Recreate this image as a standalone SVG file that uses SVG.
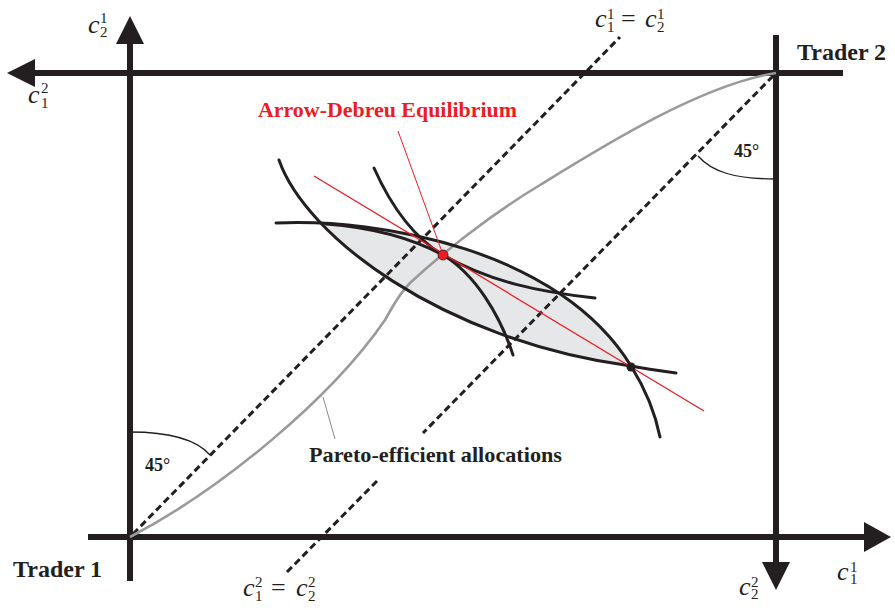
<svg xmlns="http://www.w3.org/2000/svg" width="895" height="610" viewBox="0 0 895 610">
  <defs>
    <style>
      .axis { stroke: #231f20; stroke-width: 6; fill: none; }
      .head { fill: #231f20; }
      .dash { stroke: #231f20; stroke-width: 3; stroke-dasharray: 7 4; fill: none; }
      .ic { stroke: #231f20; stroke-width: 3; fill: none; stroke-linecap: round; }
      .thin { stroke: #231f20; stroke-width: 1.3; fill: none; }
      .pareto { stroke: #9a9a9a; stroke-width: 2.6; fill: none; }
      .red { stroke: #ed1c24; stroke-width: 1.3; fill: none; }
      .math { font-family: "Liberation Serif", "DejaVu Serif", serif; fill: #231f20; }
      .mc { font-style: italic; font-size: 26px; }
      .md { font-size: 15px; font-style: normal; }
      .eq { font-size: 26px; font-style: normal; }
      .lbl { font-family: "Liberation Serif", "DejaVu Serif", serif; font-weight: bold; fill: #231f20; }
    </style>
    <clipPath id="belowUpper">
      <path d="M276,223 C 380,218 560,250 631,366 C 646,390 655,412 660,437 L 660,600 L 100,600 L 100,223 Z"/>
    </clipPath>
  </defs>

  <rect width="895" height="610" fill="#ffffff"/>

  <!-- Lens fill -->
  <g id="lens">
    <path d="M279,160 C 305,235 440,340 631,366 C 646,369 661,371 676,373 L 900,373 L 900,0 L 279,0 Z" fill="#e6e7e8" clip-path="url(#belowUpper)"/>
  </g>

  <!-- Axes -->
  <g id="trader1-axes">
    <line class="axis" x1="88" y1="537" x2="866" y2="537"/>
    <polygon class="head" points="891,537 864,522 864,552"/>
    <line class="axis" x1="130" y1="581" x2="130" y2="42"/>
    <polygon class="head" points="130,16 116,44 144,44"/>
  </g>
  <g id="trader2-axes">
    <line class="axis" x1="843" y1="73" x2="33" y2="73"/>
    <polygon class="head" points="7,73 35,59 35,87"/>
    <line class="axis" x1="776" y1="35" x2="776" y2="563"/>
    <polygon class="head" points="776,590 762,562 790,562"/>
  </g>

  <!-- 45 degree certainty lines -->
  <g id="certainty-lines">
    <line class="dash" x1="133" y1="534" x2="620" y2="37"/>
    <line class="dash" x1="773" y1="76" x2="423" y2="433"/>
    <line class="dash" x1="377" y1="481" x2="286" y2="573"/>
  </g>

  <!-- Angle arcs -->
  <g id="angles">
    <path class="thin" d="M130,432 C 170,432 197,440 210,455"/>
    <path class="thin" d="M698,156 C 712,172 735,179 776,179"/>
    <text class="lbl" x="145" y="471" font-size="18">45°</text>
    <text class="lbl" x="734" y="157" font-size="18">45°</text>
  </g>

  <!-- Pareto curve -->
  <g id="pareto-curve">
    <path class="pareto" d="M130,537 C 220,490 330,400 385,320 C 392,308 398,295 410,283 C 440,255 490,215 540,185 C 600,148 700,85 776,73"/>
    <line x1="323" y1="397" x2="335" y2="439" stroke="#8a8a8a" stroke-width="1"/>
    <text class="lbl" x="309" y="462" font-size="21" textLength="253" lengthAdjust="spacingAndGlyphs">Pareto-efficient allocations</text>
  </g>

  <!-- Indifference curves -->
  <g id="indifference-curves">
    <path class="ic" d="M279,160 C 305,235 440,340 631,366 C 646,369 661,371 676,373"/>
    <path class="ic" d="M276,223 C 380,218 560,250 631,366 C 646,390 655,412 660,437"/>
    <path class="ic" d="M374,168 C 395,215 418,240 443,255 C 490,282 540,292 595,298"/>
    <path class="ic" d="M326,224 C 380,228 415,240 443,255 C 475,274 500,315 513,355"/>
  </g>

  <!-- Price line and equilibrium -->
  <g id="equilibrium">
    <line class="red" x1="314" y1="176" x2="704" y2="411"/>
    <line x1="398" y1="131" x2="442" y2="252" stroke="#ed1c24" stroke-width="1"/>
    <circle cx="443" cy="255" r="5" fill="#ed1c24" stroke="#231f20" stroke-width="0.8"/>
    <circle cx="631" cy="367" r="4.5" fill="#231f20"/>
    <text class="lbl" x="258" y="117" font-size="21" style="fill:#ed1c24" textLength="259" lengthAdjust="spacingAndGlyphs">Arrow-Debreu Equilibrium</text>
  </g>

  <!-- Trader labels -->
  <g id="trader-labels">
    <text class="lbl" x="13" y="577" font-size="24">Trader 1</text>
    <text class="lbl" x="797" y="60" font-size="24">Trader 2</text>
  </g>

  <!-- Axis labels -->
  <g id="axis-labels">
    <text class="math"><tspan class="mc" x="88" y="33">c</tspan><tspan class="md" x="100" y="23">1</tspan><tspan class="md" x="100" y="37">2</tspan></text>
    <text class="math"><tspan class="mc" x="28" y="103">c</tspan><tspan class="md" x="41" y="93">2</tspan><tspan class="md" x="41" y="108">1</tspan></text>
    <text class="math"><tspan class="mc" x="739" y="595">c</tspan><tspan class="md" x="751" y="587">2</tspan><tspan class="md" x="751" y="599">2</tspan></text>
    <text class="math"><tspan class="mc" x="837" y="580">c</tspan><tspan class="md" x="850" y="572">1</tspan><tspan class="md" x="850" y="584">1</tspan></text>
  </g>

  <g id="certainty-labels">
    <text class="math"><tspan class="mc" x="595" y="27">c</tspan><tspan class="md" x="607" y="19">1</tspan><tspan class="md" x="607" y="32">1</tspan><tspan class="eq" x="621" y="27">=</tspan><tspan class="mc" x="645" y="27">c</tspan><tspan class="md" x="657" y="19">1</tspan><tspan class="md" x="657" y="32">2</tspan></text>
    <text class="math"><tspan class="mc" x="243" y="596">c</tspan><tspan class="md" x="255" y="587">2</tspan><tspan class="md" x="255" y="601">1</tspan><tspan class="eq" x="271" y="596">=</tspan><tspan class="mc" x="296" y="596">c</tspan><tspan class="md" x="308" y="587">2</tspan><tspan class="md" x="308" y="601">2</tspan></text>
  </g>
</svg>
